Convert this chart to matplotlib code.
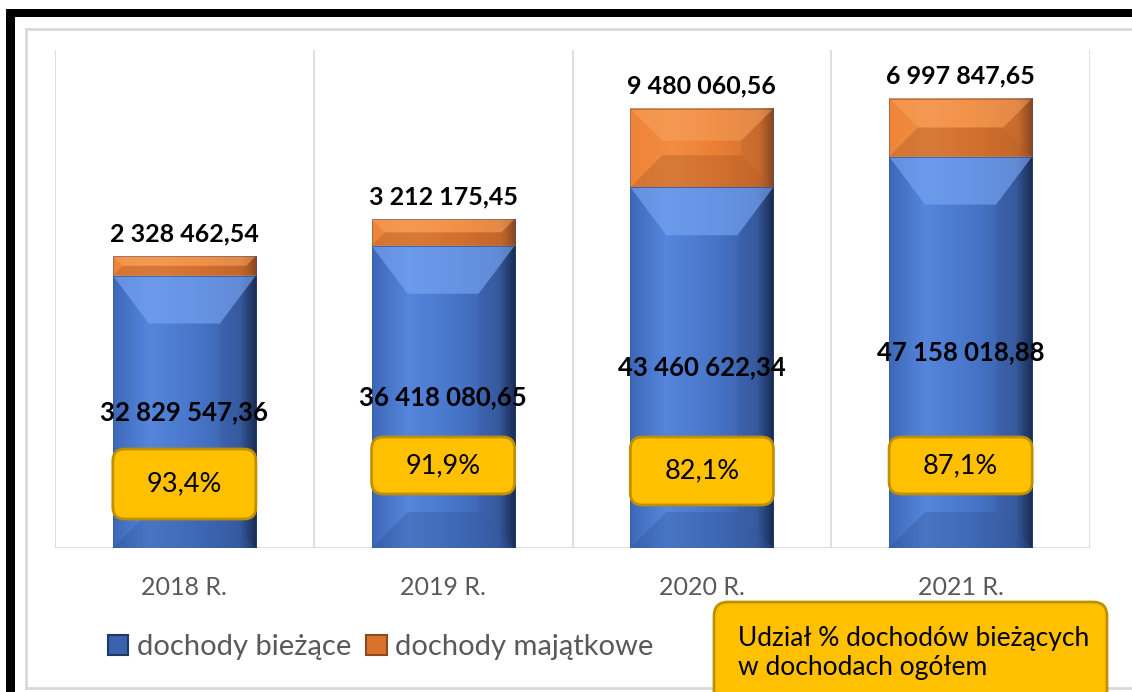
import matplotlib
matplotlib.use("Agg")
import matplotlib.pyplot as plt
import numpy as np
from matplotlib.colors import LinearSegmentedColormap
from matplotlib.patches import Polygon, FancyBboxPatch, Rectangle
from matplotlib.lines import Line2D

plt.rcParams["font.family"] = ["Lato", "DejaVu Sans"]

# chart data
years = ["2018 R.", "2019 R.", "2020 R.", "2021 R."]
biezace = [32829547.36, 36418080.65, 43460622.34, 47158018.88]
majatkowe = [2328462.54, 3212175.45, 9480060.56, 6997847.65]
series_names = ["dochody bieżące", "dochody majątkowe"]
note_text = "Udział % dochodów bieżących\nw dochodach ogółem"

# layout of the yellow percent boxes (pixels above the baseline)
box_bottom_px = [29, 54, 43, 54]
box_top_px = [99, 111, 111, 111]

W, H = 1132, 692
fig = plt.figure(figsize=(W / 100, H / 100), dpi=100)

# axes placed in pixels
ax_left, ax_right, ax_top, ax_bottom = 55, 1090, 50, 548
ax = fig.add_axes([ax_left / W, 1 - ax_bottom / H, (ax_right - ax_left) / W, (ax_bottom - ax_top) / H])
ymax = 60e6
xpu = 4 / (ax_right - ax_left)          # data units per pixel in x
ypu = ymax / (ax_bottom - ax_top)       # data units per pixel in y

blue_cmap = LinearSegmentedColormap.from_list(
    "blue", [(0, "#3D68B8"), (0.25, "#5586DC"), (0.6, "#4674C7"), (0.88, "#3A5FA8"), (1, "#1A2D56")])
orange_cmap = LinearSegmentedColormap.from_list(
    "orange", [(0, "#EF8438"), (0.3, "#F28D42"), (0.6, "#EB7F34"), (0.9, "#D2702F"), (1, "#8E4A20")])


def bevel_bar(ax, xc, y0, y1, width, cmap, light, dark, depth_px, top_depth_px, top_alpha):
    """Draw one bar segment with a simple bevel look."""
    x0, x1 = xc - width / 2, xc + width / 2
    h_px = (y1 - y0) / ypu
    w_px = width / xpu
    d = min(depth_px, h_px / 2, w_px / 2)
    dt = min(top_depth_px, h_px / 2)
    dx, dy, dyt = d * xpu, d * ypu, dt * ypu
    grad = np.linspace(0, 1, 256).reshape(1, -1)
    ax.imshow(grad, extent=(x0, x1, y0, y1), aspect="auto", cmap=cmap, zorder=2, interpolation="bicubic")
    ax.add_patch(Polygon([(x0, y1), (x1, y1), (x1 - dx, y1 - dyt), (x0 + dx, y1 - dyt)],
                         closed=True, fc=light, alpha=top_alpha, lw=0, zorder=3))
    ax.add_patch(Polygon([(x0, y0), (x1, y0), (x1 - dx, y0 + dy), (x0 + dx, y0 + dy)],
                         closed=True, fc=dark, alpha=0.3, lw=0, zorder=3))
    ax.add_patch(Polygon([(x1, y0), (x1, y1), (x1 - dx, y1 - dyt), (x1 - dx, y0 + dy)],
                         closed=True, fc="black", alpha=0.05, lw=0, zorder=3))
    ax.add_patch(Rectangle((x0, y0), width, y1 - y0, fc="none", ec="#2F4F8F", lw=0.6, alpha=0.5, zorder=3))


def fmt(v):
    whole, frac = f"{v:,.2f}".split(".")
    return whole.replace(",", " ") + "," + frac


x = np.arange(len(years))
bar_w = 0.553

for i in range(len(years)):
    b, m = biezace[i], majatkowe[i]
    bevel_bar(ax, x[i], 0, b, bar_w, blue_cmap, "#7CA9F6", "#2E4F8C", 36, 48, 0.6)
    bevel_bar(ax, x[i], b, b + m, bar_w, orange_cmap, "#F8A865", "#9A4F22", 32, 32, 0.45)

    ax.annotate(fmt(m), (x[i], b + m), xytext=(0, 8), textcoords="offset points",
                ha="center", va="bottom", fontsize=18, fontweight="bold", color="black", zorder=6)
    ax.text(x[i], b / 2, fmt(b), ha="center", va="center", fontsize=18.5,
            fontweight="bold", color="black", zorder=6)

    share = b / (b + m) * 100
    y0 = box_bottom_px[i] * ypu
    y1 = box_top_px[i] * ypu
    r = 12
    box = FancyBboxPatch((x[i] - bar_w / 2, y0), bar_w, y1 - y0,
                         boxstyle=f"round,pad=0,rounding_size={r * xpu}",
                         mutation_aspect=ypu / xpu, fc="#FFC000", ec="#BF9000", lw=2, zorder=5)
    ax.add_patch(box)
    ax.text(x[i], (y0 + y1) / 2, f"{share:.1f}%".replace(".", ","), ha="center", va="center",
            fontsize=19.5, color="black", zorder=6)

# grid lines between categories and baseline
for gx in np.arange(-0.5, len(years), 1.0):
    ax.axvline(gx, color="#D9D9D9", lw=1.2, zorder=0)
ax.axhline(0, color="#D9D9D9", lw=1.2, zorder=1)

ax.set_xlim(-0.5, len(years) - 0.5)
ax.set_ylim(0, ymax)
ax.set_xticks(x)
ax.set_xticklabels(years, fontsize=18, color="#595959")
ax.tick_params(axis="x", length=0, pad=20)
ax.set_yticks([])
for s in ax.spines.values():
    s.set_visible(False)

# legend
handles = [Rectangle((0, 0), 1, 1, fc="#3A62AE", ec="#1F3864", lw=1.5),
           Rectangle((0, 0), 1, 1, fc="#D9732C", ec="#8B4A20", lw=1.5)]
fig.legend(handles, series_names, loc="center left", bbox_to_anchor=(108 / W, 1 - 647 / H),
           ncol=2, frameon=False, fontsize=21, labelcolor="#595959", handlelength=0.7,
           handleheight=0.7, handletextpad=0.3, columnspacing=0.5, borderpad=0, borderaxespad=0)

# note box in the lower right corner
note = FancyBboxPatch((714 / W, 1 - 712 / H), (1107 - 714) / W, (712 - 602) / H,
                      boxstyle=f"round,pad=0,rounding_size={14 / W}", mutation_aspect=W / H,
                      transform=fig.transFigure, fc="#FFC000", ec="#BF9000", lw=2, zorder=5)
fig.patches.append(note)
fig.text(738 / W, 1 - 653 / H, note_text, ha="left", va="center", fontsize=19,
         color="black", linespacing=1.2, zorder=6)

# outer frame: light gray chart border and the black picture border
fig.add_artist(Line2D([26 / W, 1], [1 - 29 / H, 1 - 29 / H], color="#D9D9D9", lw=2, transform=fig.transFigure))
fig.add_artist(Line2D([26 / W, 26 / W], [1 - 29 / H, 1 - 688 / H], color="#D9D9D9", lw=2, transform=fig.transFigure))
fig.add_artist(Line2D([26 / W, 1], [1 - 688 / H, 1 - 688 / H], color="#D9D9D9", lw=2, transform=fig.transFigure))
fig.patches.append(Rectangle((6 / W, 0), 9 / W, 1 - 9 / H, transform=fig.transFigure, fc="black", lw=0))
fig.patches.append(Rectangle((6 / W, 1 - 17 / H), 1, 8 / H, transform=fig.transFigure, fc="black", lw=0))

fig.savefig("out.png", dpi=100)
